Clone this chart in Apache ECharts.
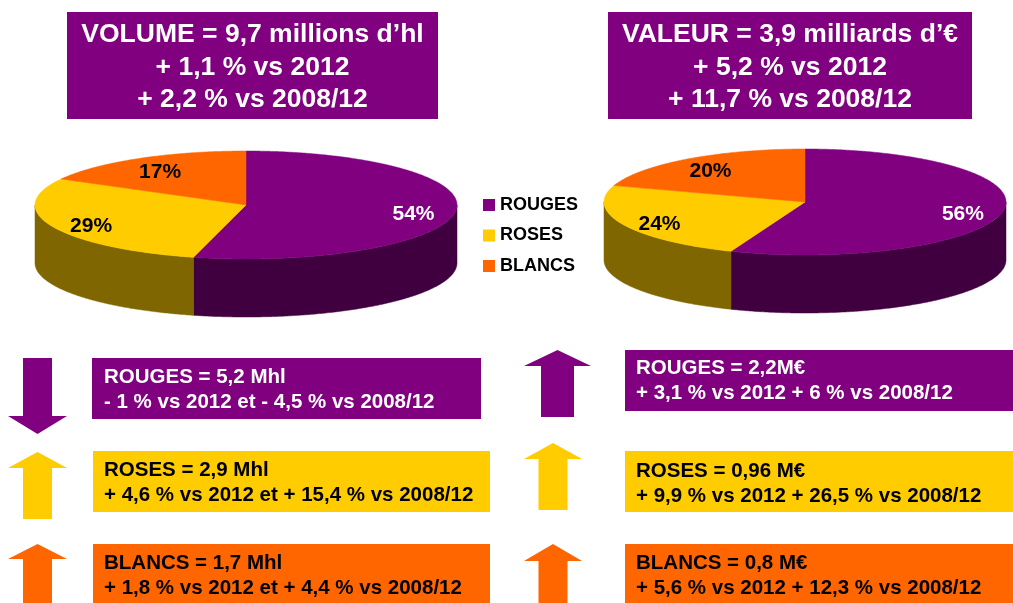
<!DOCTYPE html>
<html>
<head>
<meta charset="utf-8">
<script src="https://cdn.jsdelivr.net/npm/echarts@6/dist/echarts.min.js"></script>
<style>
  html, body { margin: 0; padding: 0; background: #fff; }
  #chart { width: 1013px; height: 603px; }
</style>
</head>
<body>
<div id="chart"></div>
<script>
// data
const pieNames = ['VOLUME', 'VALEUR'];
const categories = ['ROUGES', 'ROSES', 'BLANCS'];
const rougesShare = [54, 56];
const rosesShare = [29, 24];
const blancsShare = [17, 20];
const shares = [rougesShare, rosesShare, blancsShare];

const titleLines = [
    ['VOLUME = 9,7 millions d’hl', '+ 1,1 % vs 2012', '+ 2,2 % vs 2008/12'],
    ['VALEUR = 3,9 milliards d’€', '+ 5,2 % vs 2012', '+ 11,7 % vs 2008/12']
];
const volumeDetails = [
    ['ROUGES = 5,2 Mhl', '- 1 % vs 2012 et - 4,5 % vs 2008/12'],
    ['ROSES = 2,9 Mhl', '+ 4,6 % vs 2012 et + 15,4 % vs 2008/12'],
    ['BLANCS = 1,7 Mhl', '+ 1,8 % vs 2012 et + 4,4 % vs 2008/12']
];
const valeurDetails = [
    ['ROUGES = 2,2M€', '+ 3,1 % vs 2012 + 6 % vs 2008/12'],
    ['ROSES = 0,96 M€', '+ 9,9 % vs 2012 + 26,5 % vs 2008/12'],
    ['BLANCS = 0,8 M€', '+ 5,6 % vs 2012 + 12,3 % vs 2008/12']
];
const volumeTrend = ['down', 'up', 'up'];
const valeurTrend = ['up', 'up', 'up'];

// styles
const colors = ['#800080', '#FFCC00', '#FF6600'];
const sideColors = ['#400040', '#7F6600', '#803300'];
const textColors = ['#fff', '#000', '#000'];
const FONT = '"Liberation Sans", Arial, sans-serif';
const pieGeo = [
    { cx: 246, cy: 205, rx: 211, ry: 54, depth: 58 },
    { cx: 805, cy: 202, rx: 201, ry: 53, depth: 58 }
];

function renderSlice(params, api) {
    const cat = params.seriesIndex;
    const p = params.dataIndex;
    const g = pieGeo[p];
    let before = 0, total = 0;
    shares.forEach((arr, i) => {
        total += arr[p];
        if (i < cat) before += arr[p];
    });
    const v = api.value(0);
    const a0 = before / total * 2 * Math.PI;
    const a1 = (before + v) / total * 2 * Math.PI;
    const pt = (a, dy) => [g.cx + g.rx * Math.sin(a), g.cy - g.ry * Math.cos(a) + dy];
    const arc = (s, e, dy) => {
        const n = Math.max(2, Math.ceil((e - s) / 0.01));
        const out = [];
        for (let k = 0; k <= n; k++) out.push(pt(s + (e - s) * k / n, dy));
        return out;
    };
    const children = [];
    const s = Math.max(a0, Math.PI / 2), e = Math.min(a1, 3 * Math.PI / 2);
    if (e > s) {
        children.push({
            type: 'polygon',
            shape: { points: arc(s, e, 0).concat(arc(s, e, g.depth).reverse()) },
            style: { fill: sideColors[cat], stroke: sideColors[cat], lineWidth: 0.5 }
        });
    }
    children.push({
        type: 'polygon',
        shape: { points: [[g.cx, g.cy]].concat(arc(a0, a1, 0)) },
        style: { fill: api.visual('color'), stroke: api.visual('color'), lineWidth: 0.5 }
    });
    const m = (a0 + a1) / 2;
    children.push({
        type: 'text',
        z2: 100,
        style: {
            text: v + '%',
            x: g.cx + 0.8 * g.rx * Math.sin(m),
            y: g.cy - 0.8 * g.ry * Math.cos(m) + 4,
            fill: textColors[cat],
            font: 'bold 21px ' + FONT,
            align: 'center', textAlign: 'center',
            verticalAlign: 'middle', textVerticalAlign: 'middle'
        }
    });
    return { type: 'group', children: children };
}

function textEl(text, x, y, fill, font, align) {
    return {
        type: 'text',
        z: 10,
        style: {
            text: text, x: x, y: y, fill: fill, font: font,
            align: align, textAlign: align,
            verticalAlign: 'middle', textVerticalAlign: 'middle'
        }
    };
}

function arrowEl(dir, cx, headHalf, shaftHalf, tipY, baseY, endY, fill) {
    const pts = dir === 'up'
        ? [[cx, tipY], [cx + headHalf, baseY], [cx + shaftHalf, baseY], [cx + shaftHalf, endY],
           [cx - shaftHalf, endY], [cx - shaftHalf, baseY], [cx - headHalf, baseY]]
        : [[cx - shaftHalf, endY], [cx + shaftHalf, endY], [cx + shaftHalf, baseY], [cx + headHalf, baseY],
           [cx, tipY], [cx - headHalf, baseY], [cx - shaftHalf, baseY]];
    return { type: 'polygon', shape: { points: pts }, style: { fill: fill } };
}

const graphics = [];
// title boxes
const titleBoxes = [{ x: 67, w: 371 }, { x: 608, w: 364 }];
titleBoxes.forEach((b, i) => {
    graphics.push({ type: 'rect', shape: { x: b.x, y: 12, width: b.w, height: 107 }, style: { fill: '#800080' } });
    titleLines[i].forEach((t, j) => {
        graphics.push(textEl(t, b.x + b.w / 2, 35 + j * 32.5, '#fff', 'bold 26.5px ' + FONT, 'center'));
    });
});

// detail boxes
const leftBoxes = [
    { x: 92, y: 358, w: 389, h: 61, ty: 377 },
    { x: 93, y: 451, w: 397, h: 61, ty: 470 },
    { x: 93, y: 544, w: 397, h: 70, ty: 563 }
];
const rightBoxes = [
    { x: 625, y: 350, w: 400, h: 61, ty: 368 },
    { x: 625, y: 451, w: 400, h: 61, ty: 471 },
    { x: 625, y: 544, w: 400, h: 70, ty: 563 }
];
leftBoxes.forEach((b, i) => {
    graphics.push({ type: 'rect', shape: { x: b.x, y: b.y, width: b.w, height: b.h }, style: { fill: colors[i] } });
    volumeDetails[i].forEach((t, j) => {
        graphics.push(textEl(t, 104, b.ty + j * 25, textColors[i], 'bold 20.5px ' + FONT, 'left'));
    });
});
rightBoxes.forEach((b, i) => {
    graphics.push({ type: 'rect', shape: { x: b.x, y: b.y, width: b.w, height: b.h }, style: { fill: colors[i] } });
    valeurDetails[i].forEach((t, j) => {
        graphics.push(textEl(t, 636, b.ty + j * 25, textColors[i], 'bold 20.5px ' + FONT, 'left'));
    });
});

// trend arrows
const leftArrows = [
    { tip: 434, base: 416, end: 358 },
    { tip: 452, base: 468, end: 519 },
    { tip: 544, base: 559, end: 610 }
];
leftArrows.forEach((a, i) => {
    graphics.push(arrowEl(volumeTrend[i], 37.5, 29.5, 14.5, a.tip, a.base, a.end, colors[i]));
});
const rightArrows = [
    { cx: 557.5, hh: 33.5, sh: 16.5, tip: 350, base: 366, end: 417 },
    { cx: 553, hh: 29, sh: 14.5, tip: 443, base: 459, end: 510 },
    { cx: 553, hh: 29, sh: 14.5, tip: 544, base: 561, end: 610 }
];
rightArrows.forEach((a, i) => {
    graphics.push(arrowEl(valeurTrend[i], a.cx, a.hh, a.sh, a.tip, a.base, a.end, colors[i]));
});

const myChart = echarts.init(document.getElementById('chart'));
const option = {
    backgroundColor: '#fff',
    animation: false,
    color: colors,
    legend: {
        orient: 'vertical',
        left: 483,
        top: 196,
        padding: 0,
        icon: 'rect',
        itemWidth: 12,
        itemHeight: 12,
        itemGap: 12.5,
        data: categories,
        textStyle: { fontSize: 18, fontWeight: 'bold', color: '#000', fontFamily: FONT, lineHeight: 18 }
    },
    graphic: { elements: graphics },
    series: categories.map((name, i) => ({
        name: name,
        type: 'custom',
        coordinateSystem: 'none',
        renderItem: renderSlice,
        data: pieNames.map((pn, p) => ({ name: pn, value: [shares[i][p]] }))
    }))
};
myChart.setOption(option);

window.addEventListener('resize', function () {
    myChart.resize();
});
</script>
</body>
</html>
